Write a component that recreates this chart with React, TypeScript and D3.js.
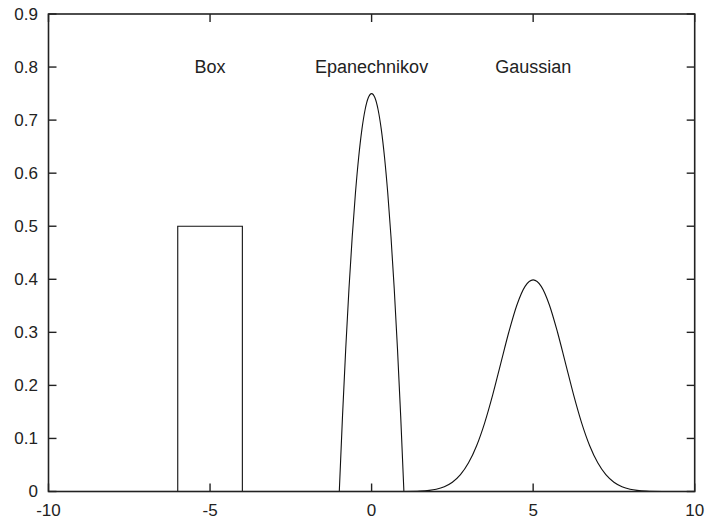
import React from "react";
import * as d3 from "d3";

const xTicks = [-10, -5, 0, 5, 10];
const yTicks = [0, 0.1, 0.2, 0.3, 0.4, 0.5, 0.6, 0.7, 0.8, 0.9];
const xTickLabels = ["-10", "-5", "0", "5", "10"];
const yTickLabels = ["0", "0.1", "0.2", "0.3", "0.4", "0.5", "0.6", "0.7", "0.8", "0.9"];

const kernelNames = ["Box", "Epanechnikov", "Gaussian"];
const kernelLabelX = [-5, 0, 5];
const kernelLabelY = [0.8, 0.8, 0.8];

// Box kernel
const boxX = [-10, -6, -6, -4, -4, 10];
const boxY = [0, 0, 0.5, 0.5, 0, 0];

// Epanechnikov kernel points
const epaX = [-1, -0.9, -0.8, -0.7, -0.6, -0.5, -0.4, -0.3, -0.2, -0.1, 0, 0.1, 0.2, 0.3, 0.4, 0.5, 0.6, 0.7, 0.8, 0.9, 1];
const epaY = [0, 0.1425, 0.27, 0.3825, 0.48, 0.5625, 0.63, 0.6825, 0.72, 0.7425, 0.75, 0.7425, 0.72, 0.6825, 0.63, 0.5625, 0.48, 0.3825, 0.27, 0.1425, 0];

// Gaussian kernel points
const gauX = [1, 1.5, 2, 2.25, 2.5, 2.75, 3, 3.25, 3.5, 3.75, 4, 4.25, 4.5, 4.75, 5, 5.25, 5.5, 5.75, 6, 6.25, 6.5, 6.75, 7, 7.25, 7.5, 7.75, 8, 8.5, 9];
const gauY = [0.0001, 0.0009, 0.0044, 0.0091, 0.0175, 0.0317, 0.054, 0.0863, 0.1295, 0.1826, 0.242, 0.3011, 0.3521, 0.3867, 0.3989, 0.3867, 0.3521, 0.3011, 0.242, 0.1826, 0.1295, 0.0863, 0.054, 0.0317, 0.0175, 0.0091, 0.0044, 0.0009, 0.0001];

const W = 710;
const H = 522;
const L = 48.5;
const R = 694.7;
const T = 14;
const B = 491.5;
const TICK = 8;
const FONT = "'Liberation Sans', Arial, Helvetica, sans-serif";
const FS = 17;
const FS_LABEL = 18;

export default function App() {
  const x = d3.scaleLinear().domain([-10, 10]).range([L, R]);
  const y = d3.scaleLinear().domain([0, 0.9]).range([B, T]);

  const lin = d3
    .line<[number, number]>()
    .x((d) => x(d[0]))
    .y((d) => y(d[1]));
  const smooth = d3
    .line<[number, number]>()
    .x((d) => x(d[0]))
    .y((d) => y(d[1]))
    .curve(d3.curveMonotoneX);

  const boxPts = boxX.map((v, i) => [v, boxY[i]] as [number, number]);
  const epaPts = epaX.map((v, i) => [v, epaY[i]] as [number, number]);
  const gauPts = gauX.map((v, i) => [v, gauY[i]] as [number, number]);

  return (
    <div style={{ position: "absolute", left: 0, top: 0 }}>
      <svg width={W} height={H} style={{ display: "block", background: "#fff" }}>
        <g fill="none" stroke="#111" strokeWidth={1.1}>
          <path d={lin(boxPts) || ""} />
          <path d={smooth(epaPts) || ""} />
          <path d={smooth(gauPts) || ""} />
        </g>
        <g stroke="#222" strokeWidth={1.4}>
          {xTicks.map((t) => (
            <g key={"xt" + t}>
              <line x1={x(t)} x2={x(t)} y1={B} y2={B - TICK} />
              <line x1={x(t)} x2={x(t)} y1={T} y2={T + TICK} />
            </g>
          ))}
          {yTicks.map((t) => (
            <g key={"yt" + t}>
              <line x1={L} x2={L + TICK} y1={y(t)} y2={y(t)} />
              <line x1={R} x2={R - TICK} y1={y(t)} y2={y(t)} />
            </g>
          ))}
          <rect x={L} y={T} width={R - L} height={B - T} fill="none" strokeWidth={1.6} />
        </g>
        <g fontFamily={FONT} fontSize={FS} fill="#222">
          {xTicks.map((t, i) => (
            <text key={"xl" + t} x={x(t)} y={516} textAnchor="middle">
              {xTickLabels[i]}
            </text>
          ))}
          {yTicks.map((t, i) => (
            <text key={"yl" + t} x={38} y={y(t)} textAnchor="end" dominantBaseline="central">
              {yTickLabels[i]}
            </text>
          ))}
        </g>
        <g fontFamily={FONT} fontSize={FS_LABEL} fill="#222">
          {kernelNames.map((n, i) => (
            <text
              key={n}
              x={x(kernelLabelX[i])}
              y={y(kernelLabelY[i])}
              textAnchor="middle"
              dominantBaseline="central"
            >
              {n}
            </text>
          ))}
        </g>
      </svg>
    </div>
  );
}
